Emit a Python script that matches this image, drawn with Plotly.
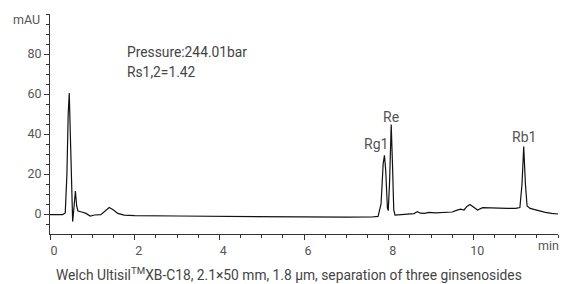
import plotly.graph_objects as go

# Chromatogram trace (time in min, absorbance in mAU)
time_min = [0.0, 0.30, 0.36, 0.40, 0.43, 0.455, 0.48, 0.51, 0.535, 0.565, 0.60, 0.63, 0.66,
            0.75, 0.85, 0.95, 1.05, 1.20, 1.30, 1.40, 1.50, 1.60, 1.75, 2.0, 3.0, 4.0, 5.0,
            6.0, 7.0, 7.6, 7.75, 7.82, 7.87, 7.90, 7.93, 7.97, 7.99, 8.02, 8.06, 8.09, 8.12,
            8.15, 8.3, 8.5, 8.6, 8.68, 8.75, 8.85, 8.95, 9.1, 9.3, 9.5, 9.6, 9.7, 9.78, 9.85,
            9.92, 10.0, 10.1, 10.22, 10.4, 10.6, 10.8, 11.0, 11.1, 11.15, 11.19, 11.23, 11.27,
            11.34, 11.5, 11.7, 11.85, 12.0]
absorb_mau = [-0.3, -0.3, 0.5, 20, 50, 60.5, 40, 5, -3.8, 3, 11.5, 4, 1.5,
              1.0, 0.3, -1.0, -0.5, -0.3, 1.5, 3.2, 2.0, 0.3, -0.6, -0.8, -1.0, -1.2, -1.3,
              -1.5, -1.6, -1.5, -1.2, 5, 25, 29.3, 22, 3, 1.7, 15, 44.8, 25, 2,
              -0.5, -0.3, 0.1, 0.2, 1.2, 0.4, 0.3, 0.8, 0.6, 0.8, 1.0, 1.8, 2.4, 2.0, 3.8,
              4.8, 3.6, 2.0, 3.2, 3.0, 2.8, 2.8, 2.8, 3.2, 15, 33.7, 15, 4,
              2.8, 1.8, 0.8, 0.3, 0.0]

# Peak labels
peak_names = ["Rg1", "Re", "Rb1"]
peak_x = [7.70, 8.06, 11.19]
peak_y = [35, 48.5, 38.5]

# Info text lines
info_lines = ["Pressure:244.01bar", "Rs1,2=1.42"]
info_y = [81, 71]

x_tickvals = [0, 2, 4, 6, 8, 10]
x_ticktext = ["0", "2", "4", "6", "8", "10"]
y_tickvals = [0, 20, 40, 60, 80]

FONT = "Roboto"
GRAY = "#555555"
TXT = "#444444"

fig = go.Figure()
fig.add_trace(go.Scatter(x=time_min, y=absorb_mau, mode="lines",
                         line=dict(color="#111111", width=1.2), hoverinfo="skip"))

for n, px, py in zip(peak_names, peak_x, peak_y):
    fig.add_annotation(x=px, y=py, text=n, showarrow=False, xref="x", yref="y",
                       font=dict(family=FONT, size=14, color=GRAY))

for t, ty in zip(info_lines, info_y):
    fig.add_annotation(x=1.78, y=ty, text=t, showarrow=False, xref="x", yref="y",
                       xanchor="left", align="left",
                       font=dict(family=FONT, size=13.8, color=TXT))

fig.add_annotation(x=0, y=1, xref="paper", yref="paper", text="mAU", showarrow=False,
                   xanchor="right", xshift=-8, yshift=-5, yanchor="middle",
                   font=dict(family=FONT, size=12.5, color=GRAY))
fig.add_annotation(x=1, y=0, xref="paper", yref="paper", text="min", showarrow=False,
                   xanchor="right", yanchor="top", xshift=3, yshift=-2,
                   font=dict(family=FONT, size=12.5, color=GRAY))
fig.add_annotation(x=0.5, y=0, xref="paper", yref="paper", yanchor="top", yshift=-29,
                   xshift=-15,
                   text="Welch Ultisil<sup>TM</sup>XB-C18, 2.1×50 mm, 1.8 μm, separation of three ginsenosides",
                   showarrow=False, font=dict(family=FONT, size=13.8, color=TXT))

fig.update_xaxes(range=[0, 12], tickvals=x_tickvals, ticktext=x_ticktext,
                 showgrid=False, zeroline=False, showline=True, linecolor="#333333",
                 linewidth=1, ticks="outside", ticklen=5, tickcolor="#333333",
                 ticklabelshift=4,
                 tickfont=dict(family=FONT, size=12.5, color=GRAY),
                 minor=dict(tickvals=[0.5, 1, 1.5, 2.5, 3, 3.5, 4.5, 5, 5.5, 6.5, 7, 7.5,
                                      8.5, 9, 9.5, 10.5, 11, 11.5, 12],
                            ticks="outside", ticklen=3, tickcolor="#333333",
                            showgrid=False))
fig.update_yaxes(range=[-10, 100], tickvals=y_tickvals,
                 showgrid=False, zeroline=False, showline=True, linecolor="#333333",
                 linewidth=1, ticks="outside", ticklen=5, tickcolor="#333333",
                 tickfont=dict(family=FONT, size=12.5, color=GRAY),
                 minor=dict(tickvals=[-5, 5, 10, 15, 25, 30, 35, 45, 50, 55, 65, 70, 75,
                                      85, 90, 95, 100],
                            ticks="outside", ticklen=3,
                            tickcolor="#333333", showgrid=False))

fig.update_layout(width=566, height=284, margin=dict(l=50, r=8, t=14, b=50),
                  plot_bgcolor="white", paper_bgcolor="white", showlegend=False)

fig.write_html("out.html", config={"displayModeBar": False},
               post_script="document.body.style.margin='0';document.body.style.padding='0';")
